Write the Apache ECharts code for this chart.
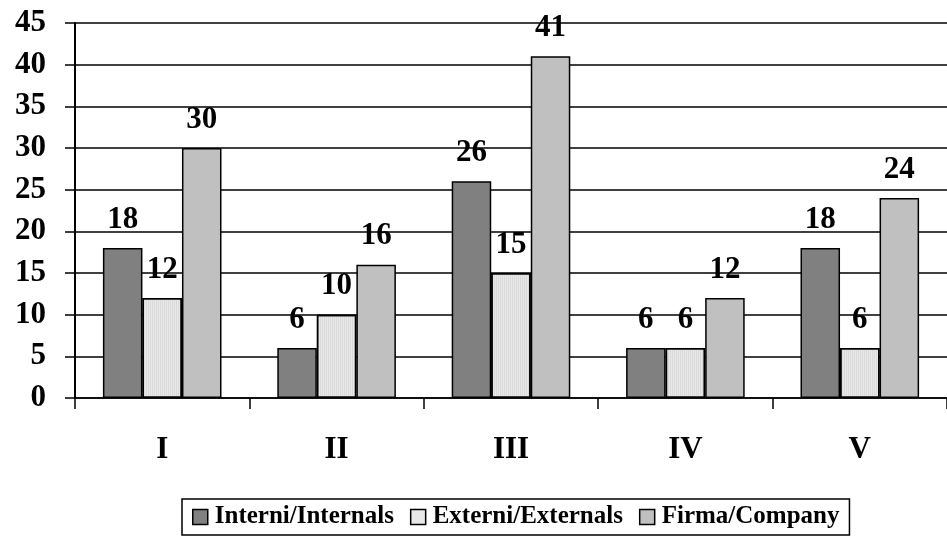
<!DOCTYPE html>
<html lang="en">
<head>
    <meta charset="UTF-8">
    <title>Chart</title>
</head>
<style>
    html, body{
        margin: 0;
        padding: 0;
        background-color: #fff;
    }
    .main{
        width: 947px;
        height: 542px;
    }
</style>
<body>
<div id="main" class="main"></div>
<script src="https://cdn.jsdelivr.net/npm/echarts@6/dist/echarts.min.js"></script>
<script>
    var categories = ['I', 'II', 'III', 'IV', 'V'];
    var seriesNames = ['Interni/Internals', 'Externi/Externals', 'Firma/Company'];
    var internals = [18, 6, 26, 6, 18];
    var externals = [12, 10, 15, 6, 6];
    var company = [30, 16, 41, 12, 24];
    var colors = ['#808080', '#e8e8e8', '#c0c0c0'];

    var font = '"Liberation Serif", "Times New Roman", serif';
    var app = echarts.init(document.getElementById('main'));

    function makeSeries(name, data, color, decal) {
        var s = {
            name: name,
            type: 'bar',
            data: data,
            barGap: '0%',
            barCategoryGap: '32%',
            itemStyle: {
                color: color,
                borderColor: '#000',
                borderWidth: 1.5
            },
            label: {
                show: true,
                position: 'top',
                distance: 13,
                color: '#000',
                fontFamily: font,
                fontWeight: 'bold',
                fontSize: 31
            },
            emphasis: {disabled: true}
        };
        if (decal) {
            s.itemStyle.decal = decal;
        }
        return s;
    }

    // faint vertical stripes on the light bars
    var stripes = {
        symbol: 'rect',
        symbolSize: 1,
        dashArrayX: [1, 1],
        dashArrayY: [6, 0],
        color: 'rgba(170,170,170,0.22)'
    };

    var option = {
        animation: false,
        color: colors,
        grid: {
            left: 75,
            top: 23,
            right: -10,
            bottom: 144
        },
        legend: {
            bottom: 7,
            left: 182,
            itemWidth: 15,
            itemHeight: 15,
            itemGap: 16,
            padding: [5, 10, 5, 10],
            borderColor: '#000',
            borderWidth: 1.5,
            icon: 'rect',
            itemStyle: {borderColor: '#000', borderWidth: 1.5, decal: 'none'},
            textStyle: {
                fontFamily: font,
                fontWeight: 'bold',
                fontSize: 25,
                lineHeight: 26,
                color: '#000',
                padding: [0, 0, 0, 2]
            },
            data: seriesNames
        },
        xAxis: {
            type: 'category',
            data: categories,
            axisLine: {lineStyle: {color: '#000', width: 1.5}},
            axisTick: {show: true, length: 11, lineStyle: {color: '#000', width: 1.5}},
            axisLabel: {
                margin: 36,
                color: '#000',
                fontFamily: font,
                fontWeight: 'bold',
                fontSize: 31
            }
        },
        yAxis: {
            type: 'value',
            min: 0,
            max: 45,
            interval: 5,
            axisLine: {show: true, lineStyle: {color: '#000', width: 2}},
            axisTick: {show: true, length: 10, lineStyle: {color: '#000', width: 1.5}},
            splitLine: {lineStyle: {color: '#000', width: 1.5}},
            axisLabel: {
                margin: 29,
                color: '#000',
                fontFamily: font,
                fontWeight: 'bold',
                fontSize: 31
            }
        },
        series: [
            makeSeries(seriesNames[0], internals, colors[0]),
            makeSeries(seriesNames[1], externals, colors[1], stripes),
            makeSeries(seriesNames[2], company, colors[2])
        ]
    };
    app.setOption(option);
</script>
</body>
</html>
